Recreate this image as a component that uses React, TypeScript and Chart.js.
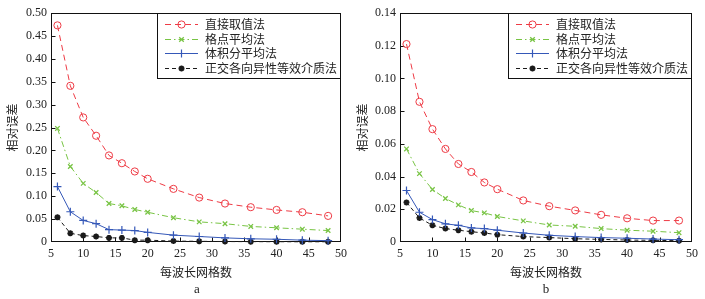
import React, { useEffect, useRef } from "react";
import { Chart, registerables } from "chart.js";

Chart.register(...registerables);

// ---------------- data ----------------
const xValues = [6, 8, 10, 12, 14, 16, 18, 20, 24, 28, 32, 36, 40, 44, 48];
const seriesNames = ["直接取值法", "格点平均法", "体积分平均法", "正交各向异性等效介质法"];

const aDirect = [0.473, 0.341, 0.272, 0.232, 0.189, 0.172, 0.154, 0.138, 0.116, 0.097, 0.084, 0.076, 0.070, 0.065, 0.057];
const aGrid = [0.248, 0.165, 0.128, 0.108, 0.084, 0.079, 0.071, 0.065, 0.053, 0.044, 0.040, 0.034, 0.031, 0.028, 0.025];
const aVolume = [0.121, 0.066, 0.047, 0.040, 0.027, 0.026, 0.025, 0.021, 0.015, 0.012, 0.009, 0.007, 0.006, 0.004, 0.003];
const aOrtho = [0.054, 0.019, 0.014, 0.012, 0.009, 0.009, 0.004, 0.004, 0.002, 0.0015, 0.001, 0.0008, 0.0006, 0.0005, 0.0005];

const bDirect = [0.121, 0.0857, 0.069, 0.0569, 0.0477, 0.0428, 0.0364, 0.0323, 0.0254, 0.0219, 0.0193, 0.0166, 0.0145, 0.0131, 0.0131];
const bGrid = [0.0569, 0.0418, 0.0321, 0.0266, 0.0227, 0.0192, 0.0178, 0.0156, 0.0129, 0.0104, 0.0096, 0.0082, 0.0072, 0.0066, 0.0057];
const bVolume = [0.0315, 0.0182, 0.0137, 0.0111, 0.0102, 0.0086, 0.0082, 0.0072, 0.0055, 0.0041, 0.0033, 0.0027, 0.0023, 0.0018, 0.0014];
const bOrtho = [0.0242, 0.0147, 0.0102, 0.0082, 0.0072, 0.0063, 0.0055, 0.0045, 0.0033, 0.0027, 0.002, 0.0016, 0.0012, 0.001, 0.0008];

const xTicks = [5, 10, 15, 20, 25, 30, 35, 40, 45, 50];
const yTicksA = [0, 0.05, 0.1, 0.15, 0.2, 0.25, 0.3, 0.35, 0.4, 0.45, 0.5];
const yLabelsA = ["0", "0.05", "0.10", "0.15", "0.20", "0.25", "0.30", "0.35", "0.40", "0.45", "0.50"];
const yTicksB = [0, 0.02, 0.04, 0.06, 0.08, 0.1, 0.12, 0.14];
const yLabelsB = ["0", "0.02", "0.04", "0.06", "0.08", "0.10", "0.12", "0.14"];

const xTitle = "每波长网格数";
const yTitle = "相对误差";
const panelLabelA = "a";
const panelLabelB = "b";

// ---------------- styles ----------------
const SERIF = "'Liberation Serif', 'Times New Roman', serif";
const CJK = "'Noto Sans CJK SC', 'Noto Sans', sans-serif";
const TEXT = "#222";

const seriesStyles = [
  { color: "#ee3b45", dash: [6, 4], pointStyle: "circle", radius: 3.6, pw: 1 },
  { color: "#78c444", dash: [6, 3, 1.5, 3], pointStyle: "crossRot", radius: 3.2, pw: 1.3 },
  { color: "#3558b8", dash: [], pointStyle: "cross", radius: 4, pw: 1.2 },
  { color: "#1a1a1a", dash: [4, 3], pointStyle: "star", radius: 3, pw: 1.8 },
];

function drawMarker(ctx: CanvasRenderingContext2D, style: string, x: number, y: number, r: number, color: string, lw: number) {
  ctx.save();
  ctx.setLineDash([]);
  ctx.strokeStyle = color;
  ctx.lineWidth = lw;
  ctx.beginPath();
  const d = r * Math.SQRT1_2;
  if (style === "circle") {
    ctx.arc(x, y, r, 0, Math.PI * 2);
  } else {
    if (style === "cross" || style === "star") {
      ctx.moveTo(x - r, y); ctx.lineTo(x + r, y);
      ctx.moveTo(x, y - r); ctx.lineTo(x, y + r);
    }
    if (style === "crossRot" || style === "star") {
      ctx.moveTo(x - d, y - d); ctx.lineTo(x + d, y + d);
      ctx.moveTo(x - d, y + d); ctx.lineTo(x + d, y - d);
    }
  }
  ctx.stroke();
  ctx.restore();
}

const framePlugin = {
  id: "frameTicks",
  beforeDatasetsDraw(chart: any) {
    const { ctx, chartArea, scales } = chart;
    const l = Math.round(chartArea.left) + 0.5;
    const t = Math.round(chartArea.top) + 0.5;
    const r = Math.round(chartArea.right) - 0.5;
    const b = Math.round(chartArea.bottom) - 0.5;
    ctx.save();
    ctx.strokeStyle = "#111";
    ctx.lineWidth = 1;
    ctx.setLineDash([]);
    ctx.strokeRect(l, t, r - l, b - t);
    ctx.beginPath();
    scales.x.ticks.forEach((tk: any) => {
      const px = Math.round(scales.x.getPixelForValue(tk.value)) + 0.5;
      if (px > l + 1 && px < r - 1) { ctx.moveTo(px, b); ctx.lineTo(px, b - 4); }
    });
    scales.y.ticks.forEach((tk: any) => {
      const py = Math.round(scales.y.getPixelForValue(tk.value)) + 0.5;
      if (py > t + 1 && py < b - 1) { ctx.moveTo(l, py); ctx.lineTo(l + 4, py); }
    });
    ctx.stroke();
    ctx.restore();
  },
};

const legendPlugin = {
  id: "boxLegend",
  afterDatasetsDraw(chart: any) {
    const { ctx, chartArea } = chart;
    const w = 184, h = 66;
    const x0 = Math.round(chartArea.right - w);
    const y0 = Math.round(chartArea.top);
    ctx.save();
    ctx.fillStyle = "#fff";
    ctx.fillRect(x0, y0, w, h);
    ctx.strokeStyle = "#111";
    ctx.lineWidth = 1;
    ctx.setLineDash([]);
    ctx.strokeRect(x0 + 0.5, y0 + 0.5, w - 1, h - 1);
    chart.data.datasets.forEach((ds: any, i: number) => {
      const st = seriesStyles[i];
      const y = Math.round(y0 + 11 + i * 14.6) + 0.5;
      ctx.beginPath();
      ctx.setLineDash(st.dash);
      ctx.strokeStyle = st.color;
      ctx.lineWidth = 1;
      ctx.moveTo(x0 + 8, y);
      ctx.lineTo(x0 + 41, y);
      ctx.stroke();
      drawMarker(ctx, st.pointStyle, x0 + 24.5, y, st.radius, st.color, st.pw);
      ctx.setLineDash([]);
      ctx.fillStyle = TEXT;
      ctx.font = `12px ${CJK}`;
      ctx.textBaseline = "middle";
      ctx.textAlign = "left";
      ctx.fillText(ds.label, x0 + 48, y);
    });
    ctx.restore();
  },
};

type PanelProps = {
  left: number;
  width: number;
  plotLeft: number;
  plotRight: number;
  series: number[][];
  yTicks: number[];
  yLabels: string[];
  yTitlePad: number;
  label: string;
};

function Panel(p: PanelProps) {
  const ref = useRef<HTMLCanvasElement | null>(null);
  useEffect(() => {
    if (!ref.current) return;
    const chart = new Chart(ref.current, {
      type: "line",
      data: {
        datasets: p.series.map((vals, i) => {
          const st = seriesStyles[i];
          return {
            label: seriesNames[i],
            data: xValues.map((x, j) => ({ x, y: vals[j] })),
            borderColor: st.color,
            backgroundColor: "transparent",
            borderWidth: 1,
            borderDash: st.dash,
            pointStyle: st.pointStyle as any,
            pointRadius: st.radius,
            pointBorderWidth: st.pw,
            pointBorderColor: st.color,
            pointBackgroundColor: "transparent",
            tension: 0,
            fill: false,
            clip: false as any,
          };
        }),
      },
      options: {
        animation: false,
        responsive: false,
        maintainAspectRatio: false,
        events: [],
        layout: { padding: { top: 13, right: p.width - p.plotRight, left: 0, bottom: 0 } },
        plugins: { legend: { display: false }, tooltip: { enabled: false }, title: { display: false } },
        scales: {
          x: {
            type: "linear",
            min: 5,
            max: 50,
            grid: { display: false, drawTicks: false },
            border: { display: false },
            afterBuildTicks: (s: any) => { s.ticks = xTicks.map((v) => ({ value: v })); },
            afterFit: (s: any) => { s.height = 57; },
            ticks: {
              padding: 5,
              autoSkip: false,
              maxRotation: 0,
              color: TEXT,
              font: { family: SERIF, size: 12 },
              callback: (v: any) => String(v),
            },
            title: {
              display: true,
              text: xTitle,
              color: TEXT,
              font: { family: CJK, size: 12 },
              padding: { top: 0, bottom: 19 },
            },
          },
          y: {
            type: "linear",
            min: 0,
            max: p.yTicks[p.yTicks.length - 1],
            grid: { display: false, drawTicks: false },
            border: { display: false },
            afterBuildTicks: (s: any) => { s.ticks = p.yTicks.map((v) => ({ value: v })); },
            afterFit: (s: any) => { s.width = p.plotLeft; },
            ticks: {
              padding: 4,
              autoSkip: false,
              color: TEXT,
              font: { family: SERIF, size: 12 },
              callback: (v: any) => {
                const idx = p.yTicks.findIndex((t) => Math.abs(t - v) < 1e-9);
                return idx >= 0 ? p.yLabels[idx] : "";
              },
            },
            title: {
              display: true,
              text: yTitle,
              color: TEXT,
              font: { family: CJK, size: 12 },
              padding: { top: p.yTitlePad, bottom: 0 },
            },
          },
        },
      },
      plugins: [framePlugin, legendPlugin],
    } as any);
    return () => chart.destroy();
  }, []);
  const center = (p.plotLeft + p.plotRight) / 2;
  return (
    <div style={{ position: "absolute", left: p.left, top: 0, width: p.width, height: 299 }}>
      <canvas ref={ref} width={p.width} height={299} style={{ width: p.width, height: 299, display: "block" }} />
      <div
        style={{
          position: "absolute",
          left: center,
          top: 281,
          transform: "translateX(-50%)",
          fontFamily: SERIF,
          fontSize: 13,
          lineHeight: "16px",
          color: TEXT,
        }}
      >
        {p.label}
      </div>
    </div>
  );
}

export default function App() {
  return (
    <div style={{ position: "absolute", left: 0, top: 0, width: 705, height: 299, background: "#fff", overflow: "hidden" }}>
      <Panel
        left={0}
        width={352}
        plotLeft={51}
        plotRight={343}
        series={[aDirect, aGrid, aVolume, aOrtho]}
        yTicks={yTicksA}
        yLabels={yLabelsA}
        yTitlePad={5}
        label={panelLabelA}
      />
      <Panel
        left={352}
        width={353}
        plotLeft={48}
        plotRight={340}
        series={[bDirect, bGrid, bVolume, bOrtho]}
        yTicks={yTicksB}
        yLabels={yLabelsB}
        yTitlePad={3}
        label={panelLabelB}
      />
    </div>
  );
}
